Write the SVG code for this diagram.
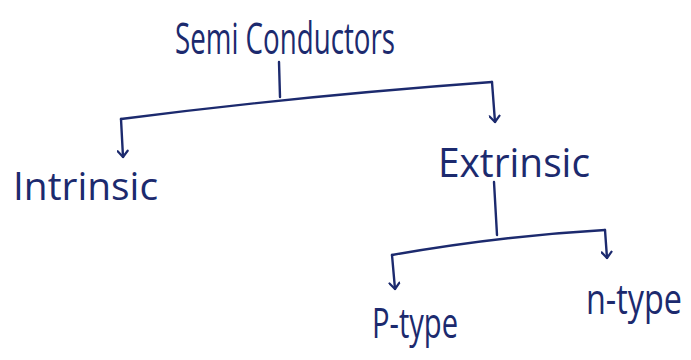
<svg xmlns="http://www.w3.org/2000/svg" width="691" height="360" viewBox="0 0 691 360">
  <style>
    .lbl { font-family: "Open Sans", "DejaVu Sans", sans-serif; fill: #1c2a6e; }
    .ln { fill: none; stroke: #1c2a6e; stroke-width: 2.4; stroke-linecap: round; stroke-linejoin: round; }
  </style>
  <defs>
    <!-- open V arrowhead, drawn pointing along +x so orient="auto" follows the line -->
    <marker id="arrow" viewBox="0 0 12 12" refX="11" refY="6" markerWidth="12" markerHeight="12" markerUnits="userSpaceOnUse" orient="auto">
      <polyline points="5,1 11,6 5,11" fill="none" stroke="#1c2a6e" stroke-width="2.2" stroke-linecap="round" stroke-linejoin="round"/>
    </marker>
  </defs>
  <rect width="691" height="360" fill="#ffffff"/>

  <g id="connectors">
    <!-- root stem and branch bar -->
    <path class="ln" d="M279 62 L280 97"/>
    <path class="ln" d="M121 119 Q300 96 492 82"/>
    <path class="ln" d="M121 119 L123 157" marker-end="url(#arrow)"/>
    <path class="ln" d="M492 82 L495 122" marker-end="url(#arrow)"/>
    <!-- extrinsic stem and branch bar -->
    <path class="ln" d="M494 182 L497 235"/>
    <path class="ln" d="M392 255 Q500 236 605 230"/>
    <path class="ln" d="M392 255 L395 289" marker-end="url(#arrow)"/>
    <path class="ln" d="M605 230 L607 258" marker-end="url(#arrow)"/>
  </g>

  <g id="semiconductors">
    <text class="lbl" x="175" y="54" font-size="44" textLength="220" lengthAdjust="spacingAndGlyphs">Semi Conductors</text>
  </g>
  <g id="intrinsic">
    <text class="lbl" x="13" y="200" font-size="38" textLength="145" lengthAdjust="spacingAndGlyphs">Intrinsic</text>
  </g>
  <g id="extrinsic">
    <text class="lbl" x="438" y="177" font-size="40" textLength="152" lengthAdjust="spacingAndGlyphs">Extrinsic</text>
  </g>
  <g id="p-type">
    <text class="lbl" x="372" y="338" font-size="42" textLength="86" lengthAdjust="spacingAndGlyphs">P-type</text>
  </g>
  <g id="n-type" transform="translate(586 314) scale(1 1.25)">
    <text class="lbl" x="0" y="0" font-size="33" textLength="96" lengthAdjust="spacingAndGlyphs">n-type</text>
  </g>
</svg>
